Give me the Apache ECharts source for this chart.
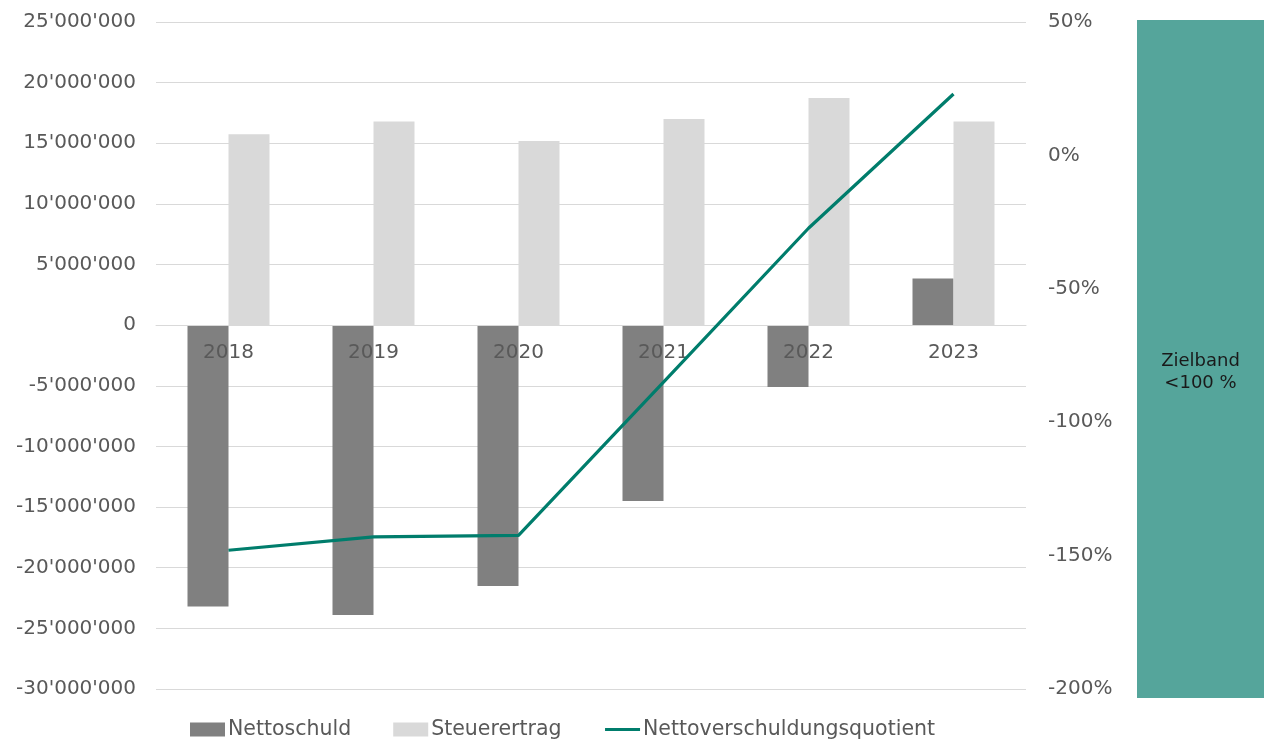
<!DOCTYPE html>
<html>
<head>
<meta charset="utf-8">
<script src="https://cdn.jsdelivr.net/npm/echarts@6/dist/echarts.min.js"></script>
<style>
html,body{margin:0;padding:0;background:#fff;}
#chart{width:1266px;height:742px;}
</style>
</head>
<body>
<div id="chart"></div>
<script>
const years = ['2018', '2019', '2020', '2021', '2022', '2023'];
const nettoschuld = [-23200000, -23900000, -21500000, -14500000, -5100000, 3850000];
const steuerertrag = [15750000, 16800000, 15180000, 17000000, 18730000, 16800000];
const quotient = [-148, -143, -142.4, -85, -27.3, 23];
const zielband = ['Zielband'];
const zielbandValue = [1];
const zielbandLabel = 'Zielband\n<100 %';

function fmtApos(v) {
  const neg = v < 0;
  let s = String(Math.abs(Math.round(v)));
  s = s.replace(/\B(?=(\d{3})+(?!\d))/g, "'");
  return (neg ? '-' : '') + s;
}

const FONT = 'DejaVu Sans';
const GRID_TOP = 22, GRID_BOTTOM = 53, CHART_H = 742;
const yMin = -30000000, yMax = 25000000;
// place the category axis on the zero line of the left value axis
const plotH = CHART_H - GRID_TOP - GRID_BOTTOM;
const zeroOffset = -plotH * (0 - yMin) / (yMax - yMin);

const chart = echarts.init(document.getElementById('chart'));
chart.setOption({
  animation: false,
  backgroundColor: '#fff',
  textStyle: { fontFamily: FONT },
  grid: [
    { left: 156, right: 240, top: GRID_TOP, bottom: GRID_BOTTOM },
    { left: 1137, width: 127, top: 20, bottom: 44 }
  ],
  legend: {
    data: [
      { name: 'Nettoschuld', icon: 'rect' },
      { name: 'Steuerertrag', icon: 'rect' },
      { name: 'Nettoverschuldungsquotient', itemStyle: { opacity: 0 }, lineStyle: { width: 3 } }
    ],
    left: 190,
    top: 719,
    padding: 0,
    itemWidth: 35,
    itemHeight: 14,
    itemGap: 42,
    textStyle: { fontFamily: FONT, fontSize: 20.5, color: '#595959', padding: [0, 0, 0, -2] }
  },
  xAxis: [
    {
      type: 'category',
      data: years,
      gridIndex: 0,
      z: 5,
      offset: zeroOffset,
      axisLine: { onZero: false, lineStyle: { color: '#D9D9D9', width: 1 } },
      axisTick: { show: false },
      axisLabel: { fontFamily: FONT, fontSize: 20, color: '#595959', margin: 18 },
      splitLine: { show: false }
    },
    {
      type: 'category',
      data: zielband,
      gridIndex: 1,
      show: false
    }
  ],
  yAxis: [
    {
      type: 'value',
      gridIndex: 0,
      min: yMin,
      max: yMax,
      interval: 5000000,
      axisLine: { show: false },
      axisTick: { show: false },
      axisLabel: { fontFamily: FONT, fontSize: 20, color: '#595959', margin: 20, formatter: fmtApos },
      splitLine: { lineStyle: { color: '#D9D9D9', width: 1 } }
    },
    {
      type: 'value',
      gridIndex: 0,
      position: 'right',
      min: -200,
      max: 50,
      interval: 50,
      axisLine: { show: false },
      axisTick: { show: false },
      axisLabel: { fontFamily: FONT, fontSize: 20, color: '#595959', margin: 22, formatter: '{value}%' },
      splitLine: { show: false }
    },
    {
      type: 'value',
      gridIndex: 1,
      min: 0,
      max: 1,
      show: false
    }
  ],
  series: [
    {
      name: 'Nettoschuld',
      type: 'bar',
      data: nettoschuld,
      barWidth: 41,
      barGap: '0%',
      itemStyle: { color: '#808080' }
    },
    {
      name: 'Steuerertrag',
      type: 'bar',
      data: steuerertrag,
      barWidth: 41,
      barGap: '0%',
      itemStyle: { color: '#D9D9D9' }
    },
    {
      name: 'Nettoverschuldungsquotient',
      type: 'line',
      yAxisIndex: 1,
      data: quotient,
      symbol: 'none',
      z: 6,
      lineStyle: { color: '#007D6C', width: 3.2 },
      itemStyle: { color: '#007D6C' }
    },
    {
      name: 'Zielband',
      type: 'bar',
      xAxisIndex: 1,
      yAxisIndex: 2,
      data: zielbandValue,
      barWidth: '100%',
      silent: true,
      itemStyle: { color: '#55A59B' },
      label: {
        show: true,
        position: 'inside',
        offset: [0, 13],
        formatter: zielbandLabel,
        fontFamily: FONT,
        fontSize: 18,
        lineHeight: 22,
        color: '#1a1a1a'
      }
    }
  ]
});
</script>
</body>
</html>
